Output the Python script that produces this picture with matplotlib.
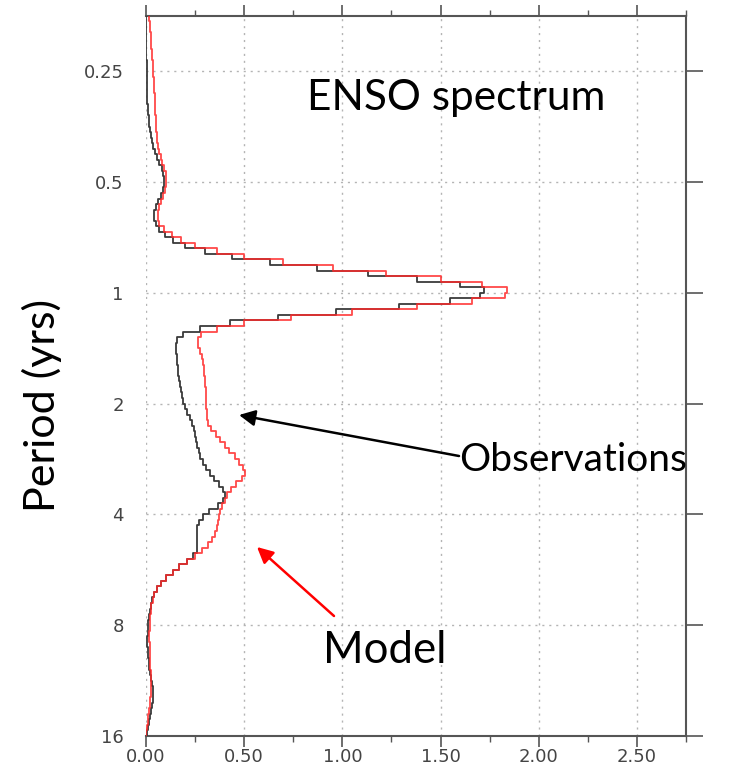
import numpy as np
import matplotlib
matplotlib.use("Agg")
import matplotlib.pyplot as plt
from matplotlib.ticker import FixedLocator, MultipleLocator

# Period bin edges (years), log-spaced
period_edges = [
    0.17678, 0.18301, 0.18946, 0.19615, 0.20306, 0.21022, 0.21764, 0.22531, 0.23326, 0.24149,
    0.25, 0.25882, 0.26795, 0.27739, 0.28717, 0.29730, 0.30779, 0.31864, 0.32988, 0.34151,
    0.35355, 0.36602, 0.37893, 0.39229, 0.40613, 0.42045, 0.43528, 0.45062, 0.46652, 0.48297,
    0.5, 0.51763, 0.53589, 0.55478, 0.57435, 0.59460, 0.61557, 0.63728, 0.65975, 0.68302,
    0.70711, 0.73204, 0.75786, 0.78458, 0.81225, 0.84090, 0.87055, 0.90125, 0.93303, 0.96593,
    1.0, 1.0353, 1.0718, 1.1096, 1.1487, 1.1892, 1.2311, 1.2746, 1.3195, 1.3660,
    1.4142, 1.4641, 1.5157, 1.5692, 1.6245, 1.6818, 1.7411, 1.8025, 1.8661, 1.9319,
    2.0, 2.0705, 2.1435, 2.2191, 2.2974, 2.3784, 2.4623, 2.5491, 2.6390, 2.7321,
    2.8284, 2.9282, 3.0314, 3.1383, 3.2490, 3.3636, 3.4822, 3.6050, 3.7321, 3.8637,
    4.0, 4.1411, 4.2871, 4.4383, 4.5948, 4.7568, 4.9246, 5.0982, 5.2780, 5.4642,
    5.6569, 5.8563, 6.0629, 6.2767, 6.4980, 6.7272, 6.9644, 7.2101, 7.4643, 7.7275,
    8.0, 8.2821, 8.5742, 8.8766, 9.1896, 9.5137, 9.8492, 10.196, 10.556, 10.928,
    11.314, 11.713, 12.126, 12.553, 12.996, 13.454, 13.929, 14.420, 14.929, 15.455,
    16.0,
]

# Observed spectrum (black), one value per period bin
obs_power = [
    0.000, 0.000, 0.001, 0.001, 0.001, 0.002, 0.002, 0.002, 0.003, 0.003,
    0.003, 0.004, 0.004, 0.005, 0.005, 0.006, 0.008, 0.010, 0.014, 0.017,
    0.020, 0.025, 0.032, 0.038, 0.045, 0.055, 0.066, 0.080, 0.088, 0.093,
    0.090, 0.085, 0.078, 0.063, 0.051, 0.042, 0.040, 0.050, 0.068, 0.095,
    0.139, 0.20, 0.30, 0.44, 0.63, 0.87, 1.13, 1.38, 1.60, 1.72,
    1.70, 1.55, 1.29, 0.97, 0.67, 0.43, 0.275, 0.19, 0.16, 0.155,
    0.155, 0.156, 0.158, 0.162, 0.165, 0.168, 0.171, 0.176, 0.183, 0.190,
    0.200, 0.210, 0.225, 0.235, 0.243, 0.250, 0.256, 0.262, 0.268, 0.277,
    0.290, 0.305, 0.325, 0.345, 0.370, 0.390, 0.400, 0.390, 0.365, 0.320,
    0.290, 0.270, 0.260, 0.258, 0.260, 0.262, 0.258, 0.240, 0.210, 0.170,
    0.135, 0.100, 0.075, 0.055, 0.040, 0.032, 0.026, 0.021, 0.016, 0.012,
    0.010, 0.008, 0.007, 0.007, 0.008, 0.010, 0.013, 0.017, 0.022, 0.027,
    0.032, 0.036, 0.037, 0.036, 0.032, 0.027, 0.021, 0.015, 0.010, 0.005,
]

# Model spectrum (red), one value per period bin
model_power = [
    0.015, 0.018, 0.021, 0.024, 0.026, 0.028, 0.030, 0.032, 0.034, 0.036,
    0.038, 0.039, 0.041, 0.042, 0.044, 0.046, 0.047, 0.048, 0.049, 0.050,
    0.052, 0.054, 0.058, 0.062, 0.067, 0.074, 0.083, 0.092, 0.100, 0.103,
    0.102, 0.095, 0.088, 0.075, 0.065, 0.063, 0.063, 0.068, 0.090, 0.131,
    0.176, 0.25, 0.36, 0.50, 0.70, 0.95, 1.22, 1.50, 1.71, 1.84,
    1.83, 1.66, 1.38, 1.05, 0.74, 0.50, 0.36, 0.28, 0.265, 0.265,
    0.275, 0.285, 0.290, 0.293, 0.296, 0.300, 0.302, 0.304, 0.305, 0.306,
    0.308, 0.309, 0.312, 0.317, 0.330, 0.355, 0.375, 0.400, 0.425, 0.455,
    0.475, 0.495, 0.505, 0.490, 0.460, 0.435, 0.415, 0.400, 0.385, 0.375,
    0.370, 0.365, 0.360, 0.350, 0.335, 0.315, 0.285, 0.250, 0.210, 0.170,
    0.135, 0.100, 0.075, 0.055, 0.042, 0.034, 0.028, 0.024, 0.021, 0.019,
    0.018, 0.017, 0.017, 0.018, 0.019, 0.020, 0.021, 0.022, 0.023, 0.024,
    0.024, 0.024, 0.023, 0.021, 0.019, 0.016, 0.012, 0.008, 0.005, 0.002,
]

y_ticks = [0.25, 0.5, 1, 2, 4, 8, 16]
y_ticklabels = ["0.25", "0.5", "1", "2", "4", "8", "16"]
x_ticks = [0.0, 0.5, 1.0, 1.5, 2.0, 2.5]
x_ticklabels = ["0.00", "0.50", "1.00", "1.50", "2.00", "2.50"]

W, H = 729, 773
fig = plt.figure(figsize=(W / 100, H / 100), dpi=100)
ax = fig.add_axes([146 / W, 1 - 736 / H, (686 - 146) / W, (736 - 15.7) / H])


def staircase(edges, values):
    e = np.asarray(edges)
    v = np.asarray(values)
    ys = np.column_stack([e[:-1], e[1:]]).ravel()
    xs = np.repeat(v, 2)
    return xs, ys


xo, yo = staircase(period_edges, obs_power)
xm, ym = staircase(period_edges, model_power)
ax.plot(xo, yo, color="#3a3a3a", lw=1.3, zorder=3)
ax.plot(xm, ym, color="#ff2a2a", lw=1.3, alpha=0.85, zorder=4)

ax.set_yscale("log", base=2)
ax.set_ylim(16, period_edges[0])
ax.set_xlim(0, 2.75)

ax.yaxis.set_major_locator(FixedLocator(y_ticks))
ax.yaxis.set_minor_locator(FixedLocator([]))
ax.set_yticklabels(y_ticklabels)
ax.xaxis.set_major_locator(FixedLocator(x_ticks))
ax.set_xticklabels(x_ticklabels)
ax.xaxis.set_minor_locator(MultipleLocator(0.25))

grid_kw = dict(color="#b4b4b4", lw=1.0, linestyle=(0, (1.5, 3.5)))
ax.grid(True, which="major", axis="both", **grid_kw)

for side in ("top", "bottom", "right"):
    ax.spines[side].set_color("#555555")
    ax.spines[side].set_linewidth(1.5)
ax.spines["left"].set_visible(False)

ax.tick_params(axis="x", which="major", direction="out", length=8, width=1.2,
               color="#555555", top=True, bottom=True, labelsize=13,
               labelcolor="#444444", pad=0.5)
ax.tick_params(axis="x", which="minor", direction="out", length=4, width=1.0,
               color="#555555", top=True, bottom=True)
ax.tick_params(axis="y", which="major", direction="out", length=12, width=1.2,
               color="#555555", left=False, right=True, labelleft=True,
               labelright=False, labelsize=13, labelcolor="#444444", pad=4)
for lab in ax.get_xticklabels() + ax.get_yticklabels():
    lab.set_family("DejaVu Sans")

txt_font = ["Lato", "DejaVu Sans"]
fig.text(307 / W, 1 - 110 / H, "ENSO spectrum", fontsize=30.5, family=txt_font,
         ha="left", va="baseline")
fig.text(459 / W, 1 - 471 / H, "Observations", fontsize=28, family=txt_font,
         ha="left", va="baseline", zorder=10)
fig.text(323 / W, 1 - 663 / H, "Model", fontsize=31.5, family=txt_font,
         ha="left", va="baseline")
fig.text(42 / W, 1 - 405 / H, "Period (yrs)", fontsize=31, family=txt_font,
         rotation=90, ha="center", va="center")

ax.annotate("", xy=(239 / W, 1 - 415 / H), xycoords="figure fraction",
            xytext=(459 / W, 1 - 456 / H), textcoords="figure fraction",
            arrowprops=dict(arrowstyle="-|>", color="black", lw=1.8,
                            mutation_scale=24, shrinkA=0, shrinkB=0))
ax.annotate("", xy=(257 / W, 1 - 547 / H), xycoords="figure fraction",
            xytext=(334 / W, 1 - 616 / H), textcoords="figure fraction",
            arrowprops=dict(arrowstyle="-|>", color="red", lw=1.8,
                            mutation_scale=24, shrinkA=0, shrinkB=0))

fig.savefig("out.png", dpi=100)
